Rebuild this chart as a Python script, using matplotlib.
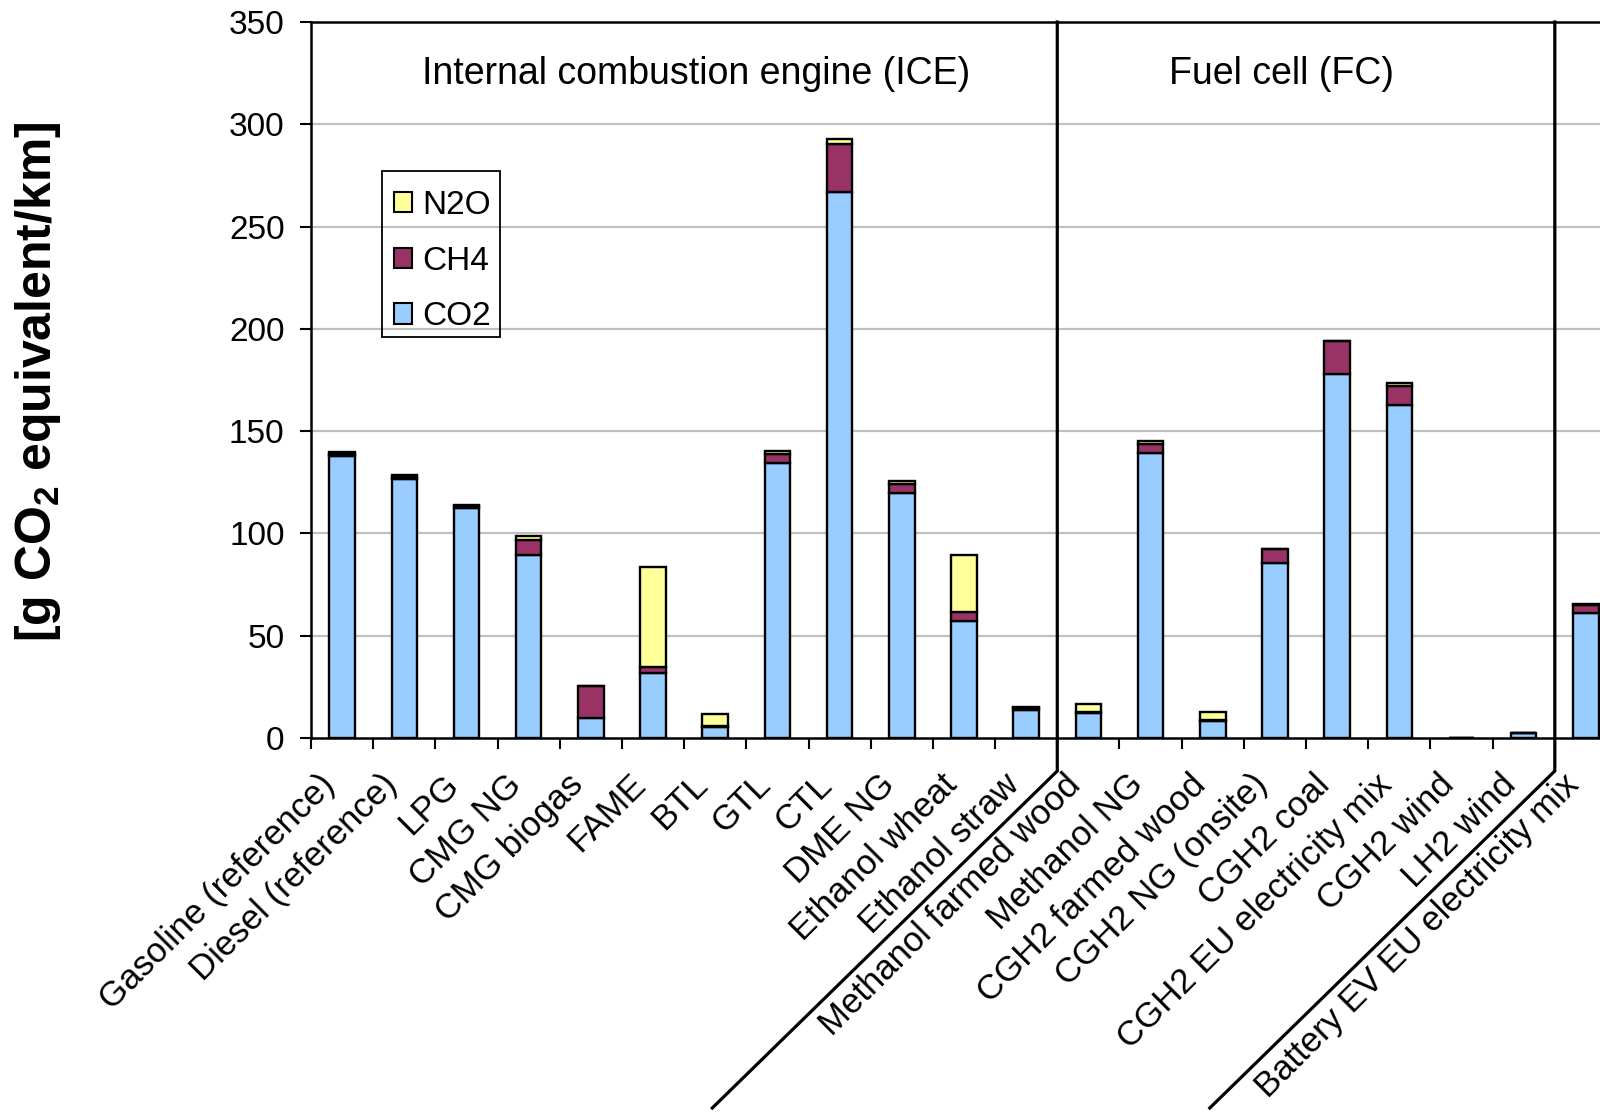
import matplotlib
matplotlib.use("Agg")
import matplotlib.pyplot as plt
from matplotlib.lines import Line2D
from matplotlib.patches import Patch, Rectangle
import matplotlib.transforms as mtransforms
import numpy as np

plt.rcParams['font.family'] = ['Liberation Sans', 'DejaVu Sans']
plt.rcParams['mathtext.fontset'] = 'custom'
plt.rcParams['mathtext.rm'] = 'Liberation Sans'
plt.rcParams['mathtext.bf'] = 'Liberation Sans:bold'

# Well-to-wheel GHG emissions per pathway, g CO2 equivalent per km
pathways = [
    "Gasoline (reference)", "Diesel (reference)", "LPG", "CMG NG", "CMG biogas",
    "FAME", "BTL", "GTL", "CTL", "DME NG", "Ethanol wheat", "Ethanol straw",
    "Methanol farmed wood", "Methanol NG", "CGH2 farmed wood", "CGH2 NG (onsite)",
    "CGH2 coal", "CGH2 EU electricity mix", "CGH2 wind", "LH2 wind",
    "Battery EV EU electricity mix",
]
co2 = [138, 126.5, 112.5, 89.5, 10, 32, 5.5, 134.5, 267, 120, 57, 13.5,
       12, 139.5, 8.5, 85.5, 178, 163, 0, 2.5, 61]
ch4 = [1, 1, 1, 7.5, 15.5, 2.5, 0.5, 4.5, 23.5, 4, 4.5, 1,
       0.5, 4, 0.3, 7, 16, 9, 0, 0, 4]
n2o = [1, 1, 0.5, 1.5, 0, 49, 5.5, 1.5, 2.5, 1.5, 28, 0.5,
       4, 1.5, 4, 0, 0, 1.5, 0, 0, 0.5]

# group titles and the category boundaries that separate the groups
groups = ["Internal combustion engine (ICE)", "Fuel cell (FC)"]
group_title_x = [5.69, 15.11]
group_breaks = [11.5, 19.5]

c_co2, c_ch4, c_n2o = "#99CCFF", "#993366", "#FFFF99"

W, H = 1600, 1113
fig = plt.figure(figsize=(W / 100, H / 100), dpi=100)
ax = fig.add_axes([311 / W, 1 - 738 / H, 1306 / W, 716 / H])

x = np.arange(len(pathways))
co2 = np.array(co2)
ch4 = np.array(ch4)
n2o = np.array(n2o)
bw = 0.41
bar_kw = dict(width=bw, edgecolor="black", linewidth=1.7, zorder=3)
ax.bar(x, co2, color=c_co2, **bar_kw)
ax.bar(x, ch4, bottom=co2, color=c_ch4, **bar_kw)
ax.bar(x, n2o, bottom=co2 + ch4, color=c_n2o, **bar_kw)

ax.set_xlim(-0.5, len(pathways) - 0.5)
ax.set_ylim(0, 350)
ax.set_yticks(np.arange(0, 351, 50))
ax.tick_params(axis="y", labelsize=24, direction="out", length=8, width=1.5, pad=11)
ax.set_xticks(np.arange(-0.5, len(pathways), 1.0))
ax.set_xticklabels([])
ax.tick_params(axis="x", direction="out", length=8, width=1.5)

for y in range(50, 301, 50):
    ax.axhline(y, color="#C0C0C0", lw=1.6, zorder=1)

for s in ["left", "bottom", "top"]:
    ax.spines[s].set_linewidth(1.8)
ax.spines["right"].set_visible(False)

# slanted category labels
lab_tr = ax.get_xaxis_transform() + mtransforms.ScaledTranslation(-9 / 72, -30 / 72, fig.dpi_scale_trans)
for xi, name in zip(x, pathways):
    ax.text(xi, 0, name, transform=lab_tr, rotation=45, rotation_mode="anchor",
            ha="right", va="center", fontsize=25)

for gx, gname in zip(group_title_x, groups):
    ax.text(gx, 0.927, gname, transform=ax.get_xaxis_transform(),
            ha="center", va="center", fontsize=27)

# group separators: vertical inside the plot, then slanting through the labels
for bx in group_breaks:
    px, ptop = ax.transData.transform((bx, 350))
    _, pbot = ax.transData.transform((bx, 0))
    drop = 33
    xs = [px, px, px - 345]
    ys = [ptop, pbot - drop, pbot - drop - 337]
    fig.add_artist(Line2D(xs, ys, transform=None, color="black", lw=2.3,
                          solid_joinstyle="miter", zorder=5))

# legend entries, with the box drawn separately
handles = [Patch(facecolor=c, edgecolor="black", linewidth=1.5) for c in (c_n2o, c_ch4, c_co2)]
leg = fig.legend(handles, ["N2O", "CH4", "CO2"], loc="upper left",
                 bbox_to_anchor=(382 / W, 1 - 178 / H), fontsize=24,
                 frameon=False, handlelength=0.55, handleheight=0.55,
                 handletextpad=0.3, labelspacing=0.74, borderpad=0.36,
                 borderaxespad=0)
fig.add_artist(Rectangle((382 / W, 1 - 337 / H), 118 / W, 166 / H,
                         transform=fig.transFigure, fill=False,
                         edgecolor="black", linewidth=1.3, zorder=4))

fig.text(38 / W, 1 - 382 / H, r"[g CO$_\mathbf{2}$ equivalent/km]", rotation=90,
         ha="center", va="center", fontsize=36, fontweight="bold")

fig.savefig("out.png", dpi=100)
